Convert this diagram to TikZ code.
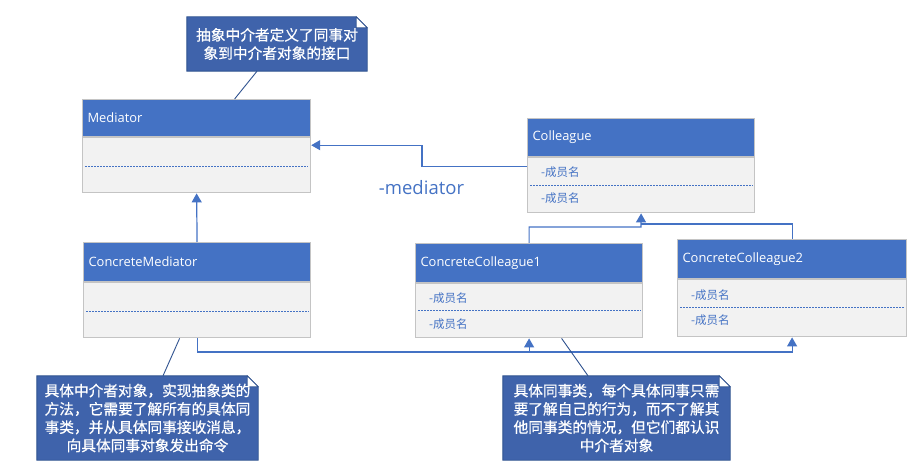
\documentclass[tikz,border=0pt]{standalone}
\usepackage{fontspec}
\setmainfont{Open Sans}
\newfontfamily\cjk{Noto Sans CJK SC}
\newfontfamily\cjkb[FakeBold=0.6]{Noto Sans CJK SC}
\usetikzlibrary{arrows.meta,backgrounds,calc}
\definecolor{hdr}{HTML}{4472C4}
\definecolor{bodyc}{HTML}{F2F2F2}
\definecolor{borderc}{HTML}{C4C4C4}
\definecolor{notefill}{HTML}{3F63AB}
\definecolor{noteborder}{HTML}{2F528F}
\tikzset{
  hdrbox/.style={draw=borderc, fill=hdr, text=white, anchor=north west, inner xsep=5pt, inner ysep=0pt,
    align=left, line width=1.2pt, font=\fontsize{12.9}{15}\selectfont},
  bodybox/.style={draw=borderc, fill=bodyc, anchor=north west, inner sep=0pt, line width=1.2pt},
  dashln/.style={draw=hdr, line width=0.8pt, dash pattern=on 2pt off 1pt},
  attr/.style={anchor=west, inner sep=0pt, text=hdr, font=\cjk\fontsize{11.5}{13}\selectfont},
  notetxt/.style={text=white, align=center, inner sep=0pt, font=\cjkb\fontsize{14.7}{18.3}\selectfont},
  noteshape/.style={fill=notefill, draw=noteborder, line width=0.9pt},
  notelink/.style={draw=noteborder, line width=0.9pt},
  conn/.style={draw=hdr, line width=1.2pt},
  tri/.style={conn, -{Triangle[length=9pt,width=10pt]}},
}
\newcommand{\notebg}[1]{%
  \fill[noteshape] (#1.north west) -- ([xshift=-11pt]#1.north east) -- ([yshift=-11pt]#1.north east)
     -- (#1.south east) -- (#1.south west) -- cycle;
  \filldraw[fill=white, draw=noteborder, line width=0.7pt] ([xshift=-11pt]#1.north east)
     -- ([xshift=-11pt,yshift=-11pt]#1.north east) -- ([yshift=-11pt]#1.north east) -- cycle;}
\begin{document}
\begin{tikzpicture}[x=1pt,y=-1pt]
\useasboundingbox (0,0) rectangle (921,473);

% Mediator
\node[hdrbox, minimum width=228pt, minimum height=37pt, text width=218pt] (medH) at (82,99) {Mediator};
\node[bodybox, minimum width=228pt, minimum height=55pt] (medB) at (medH.south west) {};
\draw[dashln] ([xshift=3pt,yshift=-1pt]medB.west) -- ([xshift=-3pt,yshift=-1pt]medB.east);

% Colleague
\node[hdrbox, minimum width=227pt, minimum height=38pt, text width=217pt] (colH) at (527,118) {Colleague};
\node[bodybox, minimum width=227pt, minimum height=55pt] (colB) at (colH.south west) {};
\draw[dashln] ([xshift=3pt]colB.west) -- ([xshift=-3pt]colB.east);
\node[attr] (colA1) at ([xshift=14pt,yshift=13pt]colB.west) {-成员名};
\node[attr] (colA2) at ([xshift=14pt,yshift=-13pt]colB.west) {-成员名};

% ConcreteMediator
\node[hdrbox, minimum width=227pt, minimum height=39pt, text width=217pt] (cmH) at (83,242) {ConcreteMediator};
\node[bodybox, minimum width=227pt, minimum height=55pt] (cmB) at (cmH.south west) {};
\draw[dashln] ([xshift=3pt,yshift=-1pt]cmB.west) -- ([xshift=-3pt,yshift=-1pt]cmB.east);

% ConcreteColleague1
\node[hdrbox, minimum width=227pt, minimum height=39pt, text width=217pt] (cc1H) at (415,243) {ConcreteColleague1};
\node[bodybox, minimum width=227pt, minimum height=54pt] (cc1B) at (cc1H.south west) {};
\draw[dashln] ([xshift=3pt]cc1B.west) -- ([xshift=-3pt]cc1B.east);
\node[attr] (cc1A1) at ([xshift=14pt,yshift=13pt]cc1B.west) {-成员名};
\node[attr] (cc1A2) at ([xshift=14pt,yshift=-13pt]cc1B.west) {-成员名};

% ConcreteColleague2
\node[hdrbox, minimum width=229pt, minimum height=39pt, text width=219pt] (cc2H) at (677,239) {ConcreteColleague2};
\node[bodybox, minimum width=229pt, minimum height=57pt] (cc2B) at (cc2H.south west) {};
\draw[dashln] ([xshift=3pt,yshift=1pt]cc2B.west) -- ([xshift=-3pt,yshift=1pt]cc2B.east);
\node[attr] (cc2A1) at ([xshift=14pt,yshift=13pt]cc2B.west) {-成员名};
\node[attr] (cc2A2) at ([xshift=14pt,yshift=-12pt]cc2B.west) {-成员名};

% association label
\node[text=hdr, inner sep=0pt, font=\fontsize{18.5}{20}\selectfont] (lbl) at (421.5,188) {-mediator};

% connectors
\draw[tri] ([yshift=-9pt]colB.north west) -- ++(-105,0) |- ([yshift=-8pt]medB.north east);
\draw[tri] (cmH.north) -- (medB.south);
\coordinate (j1) at (641,227);
\coordinate (j2) at (641,224);
\draw[tri] (cc1H.north) |- (j1) -- (colB.south);
\draw[conn] (cc2H.north) |- (j2);
\coordinate (bus) at (197,352);
\draw[tri] (cmB.south) |- (bus -| cc2B.south) -- (cc2B.south);
\draw[tri] (bus -| cc1B.south) -- (cc1B.south);

% notes
\node[notetxt, minimum width=180pt, minimum height=54pt] (n1) at (277,44) {抽象中介者定义了同事对\\象到中介者对象的接口};
\node[notetxt, minimum width=221pt, minimum height=84pt] (n2) at (147.5,418) {具体中介者对象，实现抽象类的\\方法，它需要了解所有的具体同\\事类，并从具体同事接收消息，\\向具体同事对象发出命令};
\node[notetxt, minimum width=227pt, minimum height=84pt] (n3) at (616.5,418) {具体同事类，每个具体同事只需\\要了解自己的行为，而不了解其\\他同事类的情况，但它们都认识\\中介者对象};
\begin{scope}[on background layer]
\notebg{n1}
\notebg{n2}
\notebg{n3}
\end{scope}
\draw[notelink] ([xshift=-20pt]n1.south) -- ([xshift=38pt]medH.north);
\draw[notelink] ([xshift=15.5pt]n2.north) -- ([xshift=-17.5pt]cmB.south);
\draw[notelink] ([xshift=-28.5pt]n3.north) -- ([xshift=32.5pt]cc1B.south);
\end{tikzpicture}
\end{document}
